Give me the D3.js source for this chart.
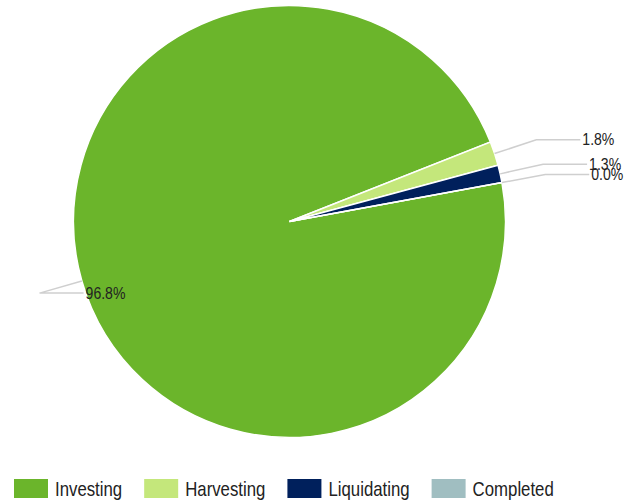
<!DOCTYPE html>
<html>
<head>
<meta charset="utf-8">
<script src="https://cdn.jsdelivr.net/npm/d3@7"></script>
<style>
  body { margin: 0; background: #fff; }
  text { font-family: "Liberation Sans Narrow", "Arial Narrow", "Liberation Sans", Arial, sans-serif; fill: #222; }
</style>
</head>
<body>
<div id="main"></div>
<script>
var categories = ['Investing', 'Harvesting', 'Liquidating', 'Completed'];
var values = [96.8, 1.8, 1.3, 0.0];
var colors = ['#6bb52b', '#c4e77b', '#00205c', '#a0bec1'];

var width = 634, height = 502;
var cx = 289.5, cy = 221.5, radius = 216;
var elbowR = 260;
var startAngle = 79.6 * Math.PI / 180;
var squeeze = 0.84; // narrow look, no narrow font installed

const svg = d3.select('#main')
    .append('svg')
    .attr('width', width)
    .attr('height', height);

var data = categories.map((c, i) => ({ name: c, value: values[i], color: colors[i] }));

var pie = d3.pie()
    .sort(null)
    .value(d => d.value)
    .startAngle(startAngle)
    .endAngle(startAngle + 2 * Math.PI);

var arcs = pie(data);
var arc = d3.arc().innerRadius(0).outerRadius(radius);

var g = svg.append('g').attr('transform', 'translate(' + cx + ',' + cy + ')');

g.selectAll('path.slice')
    .data(arcs)
    .enter()
    .append('path')
    .attr('class', 'slice')
    .attr('d', arc)
    .attr('fill', d => d.data.color)
    .attr('stroke', '#fff')
    .attr('stroke-width', 1.5);

// leader lines: edge -> elbow -> short horizontal, label after it
function pt(a, r) { return [r * Math.sin(a), -r * Math.cos(a)]; }

arcs.forEach(function(d) {
    var mid = (d.startAngle + d.endAngle) / 2;
    var p0 = pt(mid, radius);
    var p1 = pt(mid, elbowR);
    var p2 = [p1[0] + 44, p1[1]];
    g.append('path')
        .attr('d', d3.line()([p0, p1, p2]))
        .attr('fill', 'none')
        .attr('stroke', '#cfcfcf')
        .attr('stroke-width', 1.5);
    g.append('text')
        .attr('transform', 'translate(' + (p2[0] + 2) + ',' + p2[1] + ') scale(' + 0.88 + ',1)')
        .attr('dy', '0.35em')
        .attr('font-size', 16)
        .text(d3.format('.1f')(d.data.value) + '%');
});

// legend
var legend = svg.append('g').attr('transform', 'translate(14,479)');
var lx = 0;
data.forEach(function(d) {
    var item = legend.append('g').attr('transform', 'translate(' + lx + ',0)');
    item.append('rect')
        .attr('width', 34)
        .attr('height', 19)
        .attr('fill', d.color);
    var t = item.append('text')
        .attr('transform', 'translate(41,9.5) scale(' + squeeze + ',1)')
        .attr('dy', '0.35em')
        .attr('font-size', 20)
        .text(d.name);
    lx += 41 + t.node().getComputedTextLength() * squeeze + 22;
});
</script>
</body>
</html>
